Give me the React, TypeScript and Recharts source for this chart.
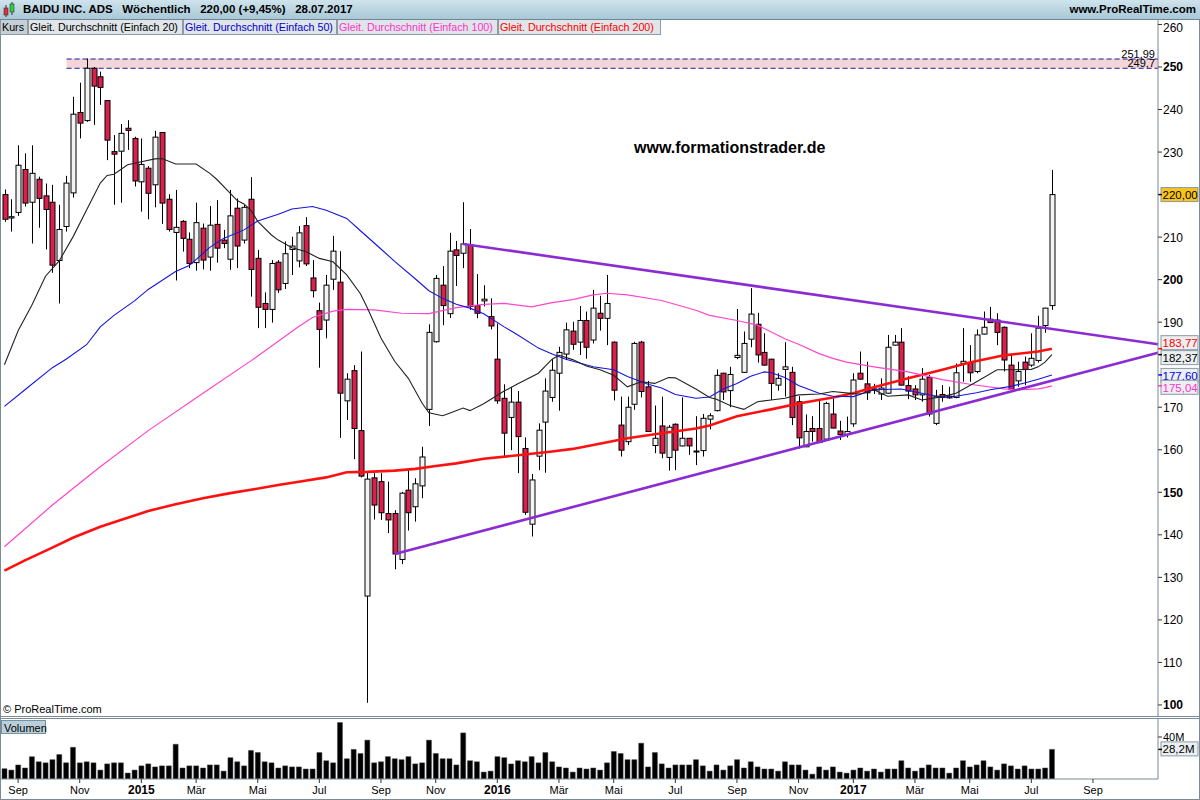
import React from 'react';
import { ComposedChart, Bar, Line, XAxis, YAxis, ReferenceLine, ReferenceArea } from 'recharts';

const FONT = '"Liberation Sans", Arial, Helvetica, sans-serif';

// Weekly candles, week of 18.08.2014 .. week of 24.07.2017
const opens = [220,214.5,215.8,225.9,218.2,223.6,219.7,218.2,204.5,212.5,
220.4,239.3,237.4,249.7,247.7,242.1,230.1,230.2,235.6,233.2,
223,226.2,222.3,234.6,218.9,211.1,213.7,209.5,204,212.1,
205.3,213,209.3,204.8,216.8,209.3,218.9,205,194.4,193,
204.1,199.1,207.1,204.4,212.7,200.4,192.7,190.5,200.1,199.4,
171.5,178.6,164.5,125.6,153.4,152.5,145,145,134.2,150.5,
146.6,151.5,169.5,185.4,198.7,192,207,206.2,208.1,193.9,
195,191.3,181.3,172.1,167.6,171.2,160.3,142.5,158.5,166.5,
172.3,178,182.5,187.9,185.3,190.4,185.8,192.1,190.9,185.3,
165.8,161.9,170.7,185.3,174.8,161,165.6,158.2,166,160.9,
162.7,159.5,159.8,167.2,169.2,178,173.9,181.7,178.2,186,
189.5,182.9,181.3,175.2,178.9,178.2,171.3,160.7,165,165,
162.5,168.4,164.4,163.6,166.1,178,175.5,174.3,173.1,173.3,
184.6,185.3,175.1,174.3,172.9,177,166.2,173,172.6,172.3,
180.3,180.5,178.4,187.2,190.7,190.5,188.8,179.9,176.2,180.6,
179.9,181,189.2,193.9];

const highs = [221.2,218.9,231.6,229.7,231.6,224.2,222.6,222.3,217.6,224.4,
243,246.3,251.99,250,248.9,242.1,234,236.6,237.5,233.6,
233.2,226.7,235,234.6,220.1,221.1,214,211.1,218.1,213.2,
217.3,218.7,211.7,221.1,219.1,217.6,224.1,207,197,204.6,
204.6,209,210.1,212.6,214.7,204.6,194.6,201.1,210.3,206.7,
178,179.9,183.1,154.6,154.5,154.5,152.5,145.8,150.1,155.2,
153.3,160.7,189.5,201.1,203.2,211,209.1,218.2,211.9,201.3,
198.7,195.6,189.7,175.4,174.8,173.8,162.9,154.3,166.2,176.8,
181.3,184.2,189.9,190.1,193.8,192.5,197.6,196.2,201.1,185.5,
172.5,172.5,185.4,185.6,176.2,170.4,172.5,165.8,166.2,172.3,
162.8,167.9,168.4,168.6,178.9,178.1,179.5,193.1,187.8,198,
192.2,187.4,181.4,178,185.3,179.5,172.6,168.3,167.9,171.6,
171.3,172.1,166.8,167.8,178,183.1,180.7,175.5,176.8,187,
187,188.6,177.3,175.2,179.2,177.6,174.1,175.2,174.8,180.3,
188.6,184.6,188.3,192.5,193.6,192.1,189,182.3,180.7,181.9,
187.4,191.5,193.4,225.8];

const lows = [213.6,211.3,215,217.2,208.5,212.2,207.1,201.6,194.4,211.3,
219.3,233.2,237.1,236.4,241.1,228.1,217.6,218.1,230.5,221.9,
216,214.2,217,213.1,211.3,199.8,206.6,202.7,202.1,202.4,
202.1,204,207.4,202.3,202.7,208.5,196,188.6,188.6,189.9,
196.9,197.8,201.1,202.9,203.2,195.8,179.3,186.2,197.6,162.8,
167,157.8,153.5,100.5,143.6,143.5,140.4,131.9,133.1,141,
143.1,148.6,165.6,185.2,189.3,191,198.5,202.7,192.9,190.9,
193.7,188.3,170.8,158.4,159.9,154.5,144.7,139.6,155.2,154.6,
171.3,169.2,181.1,183.5,182.3,181.4,185,188,184.6,171.6,
158.4,161.1,169.4,172.3,164.2,159.2,158,155.1,155.2,160.8,
158.8,156.4,158.4,164.8,169,171.7,170,181.3,178.1,184.1,
180.5,179.8,171.7,173.9,172.5,165.8,160.3,160.6,161.9,161.6,
162.1,165,162.3,162.9,165.4,176.5,171.7,173.1,171.7,173.2,
184.5,175.1,171.9,171.7,171.3,167.8,165.8,171.3,172,172.1,
176,176,178,187.1,189.8,184.6,178.4,174.1,174.8,175.2,
179.5,180.5,187.5,192.9];

const closes = [214.2,214.8,226.9,218,225,219.1,216.5,203.4,211.8,222.7,
238.9,236.8,249.7,245.5,245.2,232.8,229.5,234.4,235.1,223.2,
227.1,220.3,233.5,218,211.8,212.3,209.7,203.8,213.4,204.6,
212.8,207.4,208.5,215,207.9,217,202.4,193.5,193,203.8,
197.6,206.1,207.9,211,203.7,197.4,188.3,198.7,206.7,173.3,
176.6,165,153.8,153.1,147,145.2,143.5,135.5,149.8,145.2,
152,158.3,187.6,200.3,193.9,206.7,205.7,208.4,193.7,192.1,
195.4,189.1,171.5,163.9,171.2,163.1,145.3,152.9,164.6,173.8,
178.7,182.9,188.2,184.8,190.4,184.1,193.3,190.9,194.4,174,
159.9,170,185,173.7,164.3,162.7,159.2,165.3,159.9,162.7,
160.9,159.7,167.4,168,177.5,173.6,177.7,182.2,185,191.9,
182.3,179.9,175.6,176.8,179.5,167.6,162.8,164.3,164.3,161.7,
170.9,165.1,163.6,164.3,176.4,176.6,173.4,174,174.5,184.1,
185.3,175.2,173.8,172.9,176.6,168.4,172.6,172.3,172.2,178.1,
180.8,178.1,187,188.8,189.9,187.6,181.1,174.2,178.4,178.9,
181.5,188.6,193.3,220];

// Volume in millions
const volumes = [9.8,8.5,13.4,10.5,21.3,16.4,15.4,18.4,23.3,15.4,
30.2,15.4,16.4,15.4,8.5,14.4,15.4,15.4,5.6,8.5,
12.5,14.4,11.5,12.5,12.5,33.1,10.5,12.5,12.5,10.5,
13.4,13.4,7.5,20.3,16.4,12.5,27.2,25.2,16.4,15.4,
10.5,12.5,11.5,11.5,9.5,9.5,25.2,17.4,15.4,53.8,
19.3,28.2,24.3,37,15.4,16.4,21.3,19.3,18.4,21.3,
14.4,15.4,37,24.3,19.3,19.3,13.4,43.9,17.4,16.4,
6.6,7.5,21.3,20.3,14.4,17.4,16.4,21.3,15.4,25.2,
16.4,11.5,10.5,6.6,10.5,9.5,10.5,8.5,15.4,26.2,
24.3,18.4,18.4,34.1,11.5,25.2,14.4,10.5,13.4,13.4,
13.4,18.4,12.5,7.5,13.4,8.5,12.5,18.4,10.5,16.4,
11.5,9.5,9.5,7.5,16.4,13.4,13.4,8.5,4.6,11.5,
8.5,11.5,6.6,5.6,8.5,10.5,7.5,9.5,6.6,9.5,
9.5,17.4,10.5,7.5,10.5,13.4,10.5,10.5,5.6,10.5,
17.4,11.5,13.4,17.4,11.5,8.5,14.4,12.5,9.5,12.5,
9.5,9.5,10.5,28.2];

// Moving averages: [week index, value]
const ma20Pts = [[0,180],[2,188],[4,194],[6,200.8],[8,204.4],[10,210],[12,216.4],[14,222.7],[15,224.5],[16,224.8],[18,227],[20,227.7],[22,228.4],[23,228.5],[25,227.2],[28,227.2],[30,225],[31,223.6],[33,220.3],[34,218.6],[35,217.8],[36,216.3],[37,213.7],[39,210.5],[40,209.3],[42,207.5],[44,206.6],[46,205],[48,204.2],[50,201.1],[52,196.7],[53,193.4],[55,186.3],[57,180.8],[59,176.8],[61,171],[62,168.7],[64,168],[65,168.6],[67,169.8],[68,169.2],[70,170.8],[73,173.8],[75,175.5],[78,178],[80,181.3],[81,182.2],[83,181.2],[85,179.7],[87,178.8],[89,177.5],[91,174.8],[93,176],[95,175.6],[97,177],[98,176.9],[101,174.3],[103,172.3],[104,171.9],[106,170.4],[108,169.5],[110,171.3],[112,171.7],[114,172.1],[116,172.9],[119,173.1],[121,173.7],[124,173.2],[125,173.1],[127,174.1],[129,172.6],[132,172.9],[134,171.7],[137,172.5],[139,173.3],[142,176],[145,178.8],[147,178.8],[150,178.9],[151,179.5],[152,180.6],[153,182.37]];
const ma50Pts = [[0,170.2],[3,174.1],[7,179.3],[9,181.3],[12,184.7],[14,188.9],[16,191.6],[19,195],[21,197.7],[23,199.8],[25,201.9],[27,203.3],[30,207.6],[32,209.7],[35,211.7],[37,213.8],[40,215.4],[42,216.6],[45,217.2],[47,216.3],[50,214.4],[52,211.5],[55,207.2],[57,204.3],[60,200.2],[62,197.4],[64,195.6],[66,194.2],[68,193.3],[70,192],[73,188.9],[75,187],[78,183.9],[80,182.5],[82,181.3],[84,180.4],[86,179.5],[89,178.8],[91,177.2],[94,175.4],[96,174.5],[98,173],[101,172.1],[103,172.4],[105,174.3],[107,175.6],[109,177.3],[111,178.3],[112,178.1],[114,177],[116,175.1],[119,173.3],[121,172.6],[124,172.5],[127,174.1],[131,174.3],[134,173.3],[137,172.3],[139,172.6],[142,173.4],[144,174.1],[147,174.9],[149,175.7],[151,176.6],[153,177.6]];
const ma100Pts = [[0,137.2],[7,147],[14,156],[21,164.5],[29,173.3],[36,180.9],[40,185.5],[43,189],[45,191.1],[48,192.6],[50,193],[54,192.9],[58,192.1],[62,192],[66,193.4],[70,194.2],[73,194.4],[77,193.6],[80,194.6],[83,195.3],[86,196.4],[88,196.8],[91,196.4],[96,195.1],[101,192.8],[103,191.6],[107,190.4],[110,189.3],[114,186.1],[116,184.8],[119,182.6],[121,181.5],[123,180.6],[127,179.5],[132,178.3],[137,176.5],[141,175.4],[146,174.3],[148,174.1],[151,174.3],[152,174.6],[153,175.04]];
const ma200Pts = [[0,131.6],[3,134],[7,137],[10,139.3],[14,141.9],[18,144],[21,145.6],[25,147.2],[29,148.6],[33,149.8],[36,150.6],[40,151.7],[43,152.5],[47,153.5],[50,154.7],[53,154.8],[57,155.1],[60,155.5],[63,156.2],[66,156.8],[70,157.9],[75,158.7],[80,159.6],[83,160.2],[86,161.1],[91,162.7],[96,163.9],[101,165],[103,165.7],[107,167.9],[112,169.5],[116,170.9],[121,172.3],[124,173.3],[127,174.7],[132,176.8],[137,178.8],[141,180.5],[146,182.2],[151,183.1],[153,183.77]];

const priceTicks = [100,110,120,130,140,150,160,170,190,200,210,230,240,250,260];
const monthTicks = [2,11,20,28,37,46,55,63,72,81,89,98,107,116,124,133,141,150,159];
const monthLabels = ['Sep','Nov','2015','Mär','Mai','Jul','Sep','Nov','2016','Mär','Mai','Jul','Sep','Nov','2017','Mär','Mai','Jul','Sep'];

const N_CATS = 169;
const rows: any[] = Array.from({ length: N_CATS }, (_, i) => {
  const r: any = { i };
  if (i < opens.length) {
    r.o = opens[i]; r.h = highs[i]; r.l = lows[i]; r.c = closes[i]; r.v = volumes[i];
  }
  return r;
});
ma20Pts.forEach(([i, v]) => { rows[i].ma20 = v; });
ma50Pts.forEach(([i, v]) => { rows[i].ma50 = v; });
ma100Pts.forEach(([i, v]) => { rows[i].ma100 = v; });
ma200Pts.forEach(([i, v]) => { rows[i].ma200 = v; });

const Candle = (p: any) => {
  const { x, y, width, height, payload } = p;
  if (!payload || payload.o == null) return null;
  const { o, h, l, c } = payload;
  const top = Math.min(y, y + height);
  const hh = Math.abs(height);
  const px = (v: number) => (h - l > 0 ? top + ((h - v) / (h - l)) * hh : top);
  const cx = Math.round(x + width / 2) + 0.5;
  const b1 = Math.min(px(o), px(c));
  const b2 = Math.max(px(o), px(c));
  const up = c >= o;
  return (
    <g>
      <line x1={cx} x2={cx} y1={top} y2={top + hh} stroke="#000" strokeWidth={1} />
      <rect x={cx - 2.5} y={b1} width={5} height={Math.max(b2 - b1, 1)} fill={up ? '#f4f4f4' : '#dc1f4b'} stroke="#000" strokeWidth={1} />
    </g>
  );
};

const PriceTick = (p: any) => {
  const v = p.payload.value;
  const dy = v === 260 ? 7.5 : 4.5;
  return (
    <text x={p.x} y={p.y + dy} fontSize={12} fontFamily={FONT} fontWeight={v % 50 === 0 ? 700 : 400} fill="#000" textAnchor="start">{v}</text>
  );
};

const VolTick = (p: any) => {
  const v = p.payload.value;
  return (
    <text x={p.x} y={p.y + 4} fontSize={11} fontFamily={FONT} fill="#000" textAnchor="start">{v + 'M'}</text>
  );
};

const MonthTick = (p: any) => {
  const idx = monthTicks.indexOf(p.payload.value);
  const label = idx >= 0 ? monthLabels[idx] : '';
  const bold = /^\d{4}$/.test(label);
  return (
    <text x={p.x} y={p.y + 10} fontSize={bold ? 12 : 11} fontWeight={bold ? 700 : 400} fontFamily={FONT} fill="#000" textAnchor="middle">{label}</text>
  );
};

const tag = (text: string, color: string, bg: string, dy: number, tickColor: string) => (p: any) => {
  const vb = p.viewBox;
  if (!vb) return null;
  const right = vb.x + vb.width;
  const yy = vb.y + dy;
  return (
    <g>
      <rect x={right + 3} y={yy - 7} width={37} height={14} fill={bg} stroke="#8a9aa6" strokeWidth={1} />
      <line x1={right} x2={right + 4} y1={vb.y} y2={vb.y} stroke={tickColor} strokeWidth={1.5} />
      <text x={right + 4.5} y={yy + 4.5} fontSize={11.5} fontFamily={FONT} fill={color}>{text}</text>
    </g>
  );
};

const trend = (color: string) => (p: any) => {
  const { x1, y1, x2, y2 } = p;
  const ext = 3.4;
  const k = (y2 - y1) / (x2 - x1);
  return <line x1={x1} y1={y1} x2={x2 + ext} y2={y2 + k * ext} stroke={color} strokeWidth={2.6} />;
};

const Band = (p: any) => {
  const { x, y, width, height } = p;
  const x0 = x + 4;
  return (
    <g>
      <rect x={x0} y={y} width={width - 4} height={height} fill="#f4d6d8" />
      <line x1={x0} x2={x + width} y1={y + 0.5} y2={y + 0.5} stroke="#1a1aa8" strokeDasharray="5 3" />
      <line x1={x0} x2={x + width} y1={y + height} y2={y + height} stroke="#1a1aa8" strokeDasharray="5 3" />
      <text x={x + width - 3} y={y - 1} fontSize={11} fontFamily={FONT} textAnchor="end" fill="#000">251,99</text>
      <text x={x + width - 3} y={y + height - 1} fontSize={11} fontFamily={FONT} textAnchor="end" fill="#000">249,7</text>
    </g>
  );
};

const PURPLE = '#8b2bd2';

const legendBox = (left: number, width: number, text: string, color: string, bg: string) => (
  <div style={{ position: 'absolute', left, top: 20, width: width - 1, height: 15, background: bg, border: '1px solid #8c9ca6', borderTop: 'none', color, fontSize: 10.7, lineHeight: '15px', paddingLeft: 1, boxSizing: 'border-box', whiteSpace: 'nowrap', overflow: 'hidden', zIndex: 5 }}>{text}</div>
);

export default function App() {
  return (
    <div style={{ position: 'absolute', left: 0, top: 0, width: 1200, height: 800, background: '#fff', overflow: 'hidden', fontFamily: FONT }}>
      {/* header */}
      <div style={{ position: 'absolute', left: 0, top: 0, width: 1200, height: 19, background: 'linear-gradient(#cfe3ec, #a9c8d7)', borderBottom: '1px solid #6d8797', zIndex: 5 }}>
        <svg width={16} height={19} style={{ position: 'absolute', left: 2, top: 0 }}>
          <line x1={4} x2={4} y1={5} y2={17} stroke="#333" />
          <rect x={2} y={8} width={4} height={7} fill="#e0303a" stroke="#333" strokeWidth={0.6} />
          <line x1={10} x2={10} y1={2} y2={15} stroke="#333" />
          <rect x={8} y={4} width={4} height={8} fill="#30d040" stroke="#333" strokeWidth={0.6} />
        </svg>
        <div style={{ position: 'absolute', left: 23, top: 2, fontSize: 11.5, fontWeight: 700, lineHeight: '15px', whiteSpace: 'pre', color: '#000' }}>
          BAIDU INC. ADS   Wöchentlich   220,00 (+9,45%)   28.07.2017
        </div>
        <div style={{ position: 'absolute', right: 4, top: 2, fontSize: 11.5, fontWeight: 700, lineHeight: '15px', color: '#000' }}>www.ProRealTime.com</div>
      </div>

      {/* legend row */}
      {legendBox(0, 29, 'Kurs', '#000', '#c5cfd5')}
      {legendBox(28, 156, 'Gleit. Durchschnitt (Einfach 20)', '#000', '#dfe5e8')}
      {legendBox(183, 155, 'Gleit. Durchschnitt (Einfach 50)', '#0000d0', '#dfe5e8')}
      {legendBox(337, 162, 'Gleit. Durchschnitt (Einfach 100)', '#ff33cc', '#dfe5e8')}
      {legendBox(498, 164, 'Gleit. Durchschnitt (Einfach 200)', '#ff0000', '#dfe5e8')}

      {/* price pane */}
      <div style={{ position: 'absolute', left: 0, top: 20, width: 1200, height: 696 }}>
        <ComposedChart width={1200} height={696} data={rows} margin={{ top: 0, right: 0, bottom: 0, left: 1 }}>
          <XAxis dataKey="i" type="category" hide />
          <YAxis orientation="right" width={42} domain={[97.4, 261.05]} ticks={priceTicks} allowDataOverflow interval={0}
            tick={<PriceTick />} tickSize={4} tickMargin={1} stroke="#7a8a96" tickLine={{ stroke: '#333' }} />
          <ReferenceArea x1={9} y1={249.7} y2={251.99} shape={Band} ifOverflow="visible" />
          <Bar dataKey={(d: any) => (d.o == null ? null : [d.l, d.h])} shape={Candle} barSize={5} isAnimationActive={false} />
          <Line dataKey="ma200" stroke="#ff1010" strokeWidth={2.6} dot={false} connectNulls isAnimationActive={false} />
          <Line dataKey="ma100" stroke="#ff44cc" strokeWidth={1.2} dot={false} connectNulls isAnimationActive={false} />
          <Line dataKey="ma50" stroke="#1414e0" strokeWidth={1.1} dot={false} connectNulls isAnimationActive={false} />
          <Line dataKey="ma20" stroke="#222" strokeWidth={1.1} dot={false} connectNulls isAnimationActive={false} />
          <ReferenceLine segment={[{ x: 67, y: 208.4 }, { x: 168, y: 184.92 }]} shape={trend(PURPLE)} ifOverflow="visible" />
          <ReferenceLine segment={[{ x: 57, y: 135.5 }, { x: 168, y: 182.59 }]} shape={trend(PURPLE)} ifOverflow="visible" />
          <ReferenceLine y={220} stroke="transparent" ifOverflow="visible" label={tag('220,00', '#000', '#f7c41a', 0, '#000')} />
          <ReferenceLine y={183.77} stroke="transparent" ifOverflow="visible" label={tag('183,77', '#ff0000', '#eceff1', -6, '#ff0000')} />
          <ReferenceLine y={182.37} stroke="transparent" ifOverflow="visible" label={tag('182,37', '#000', '#eceff1', 3, '#000')} />
          <ReferenceLine y={177.6} stroke="transparent" ifOverflow="visible" label={tag('177,60', '#0000e0', '#eceff1', 0.5, '#0000e0')} />
          <ReferenceLine y={175.04} stroke="transparent" ifOverflow="visible" label={tag('175,04', '#ff33cc', '#eceff1', 1.5, '#ff33cc')} />
        </ComposedChart>
      </div>

      <div style={{ position: 'absolute', left: 634, top: 138, fontSize: 16, fontWeight: 700, lineHeight: '20px', color: '#000', zIndex: 4 }}>www.formationstrader.de</div>
      <div style={{ position: 'absolute', left: 3, top: 703, fontSize: 11, lineHeight: '13px', color: '#000', zIndex: 4 }}>© ProRealTime.com</div>

      {/* pane separators */}
      <div style={{ position: 'absolute', left: 0, top: 716, width: 1200, height: 1, background: '#7a8a96' }} />
      <div style={{ position: 'absolute', left: 0, top: 718, width: 1200, height: 1, background: '#7a8a96' }} />

      {/* volume pane */}
      <div style={{ position: 'absolute', left: 0, top: 719, width: 1200, height: 81 }}>
        <ComposedChart width={1200} height={81} data={rows} margin={{ top: 0, right: 0, bottom: 0, left: 1 }}>
          <XAxis dataKey="i" type="category" ticks={monthTicks} interval={0} tick={<MonthTick />} tickSize={4} tickMargin={1} height={21} stroke="#7a8a96" tickLine={{ stroke: '#333' }} />
          <YAxis orientation="right" width={42} domain={[0, 57.14]} ticks={[20, 40]} allowDataOverflow tick={<VolTick />} tickSize={4} tickMargin={1} stroke="#7a8a96" tickLine={{ stroke: '#333' }} />
          <Bar dataKey="v" fill="#000" stroke="#444" strokeWidth={0.5} barSize={5} isAnimationActive={false} />
          <ReferenceLine y={28.2} stroke="transparent" ifOverflow="visible" label={tag('28,2M', '#000', '#eceff1', -0.5, '#000')} />
        </ComposedChart>
      </div>
      <div style={{ position: 'absolute', left: 1, top: 720, width: 45, height: 14, background: '#b9cfdb', border: '1px solid #7891a0', fontSize: 11, lineHeight: '14px', paddingLeft: 2, boxSizing: 'border-box', color: '#000' }}>Volumen</div>

      {/* outer borders */}
      <div style={{ position: 'absolute', left: 0, top: 20, width: 1, height: 780, background: '#7a8a96' }} />
      <div style={{ position: 'absolute', left: 1199, top: 20, width: 1, height: 780, background: '#7a8a96' }} />
      <div style={{ position: 'absolute', left: 0, top: 799, width: 1200, height: 1, background: '#7a8a96' }} />
    </div>
  );
}
